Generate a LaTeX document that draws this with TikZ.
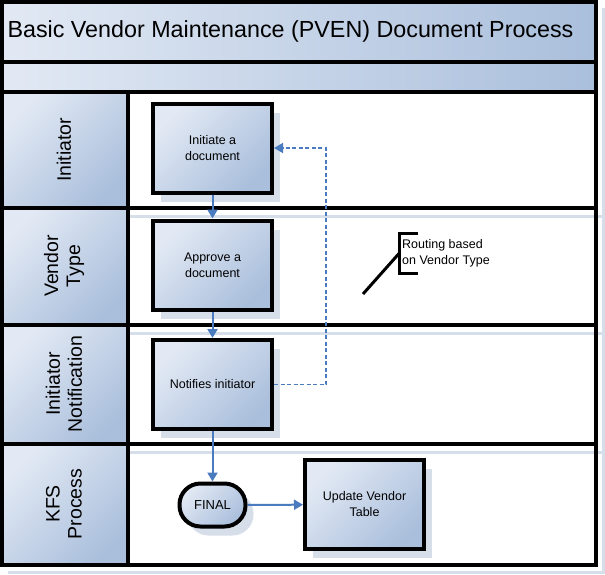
\documentclass[tikz,border=0pt]{standalone}
\usepackage{fontspec}
\setmainfont{Liberation Sans}
\usepackage{tikz}
\usetikzlibrary{arrows.meta,calc,shadows}
\definecolor{lanelight}{HTML}{E2E9F4}
\definecolor{lanedark}{HTML}{AABFDC}
\definecolor{shadowblue}{HTML}{D6DEEA}
\definecolor{flowblue}{HTML}{4A7BBE}

\begin{document}
\begin{tikzpicture}[x=1pt,y=-1pt,
  framelines/.style={line width=4pt},
  stepbox/.style={draw=black,line width=4pt,minimum width=119pt,minimum height=89pt,
    top color=lanelight,bottom color=lanedark,shading angle=45,align=center,
    font=\fontsize{12.5}{16}\selectfont,
    drop shadow={shadow xshift=8pt,shadow yshift=-9pt,fill=shadowblue,opacity=1}},
  endbox/.style={stepbox,minimum width=66pt,minimum height=43pt,rounded corners=21pt,
    font=\fontsize{13}{16}\selectfont},
  lanelabel/.style={rotate=90,align=center,font=\fontsize{19.5}{22}\selectfont},
  flow/.style={flowblue,line width=2pt,-{Triangle[length=9pt,width=10pt]}},
  flowdash/.style={flow,line width=1.5pt,dash pattern=on 4pt off 2.5pt}]
  \useasboundingbox (0,0) rectangle (605,574);
  \foreach \y in {216,333,452,572} \draw[shadowblue,line width=3pt] (8,\y) -- (605,\y);
  \draw[shadowblue,line width=3pt] (603,8) -- (603,574);
  \shade[left color=lanelight,right color=lanedark] (2,2) rectangle (596,62);
  \shade[left color=lanelight,right color=lanedark] (2,62) rectangle (596,92);
  \foreach \ya/\yb in {92/208,208/325,325/444,444/565}
    \shade[top color=lanelight,bottom color=lanedark,shading angle=45] (2,\ya) rectangle (128,\yb);
  \draw[framelines] (2,2) rectangle (596,565);
  \foreach \y in {62,92,208,325,444} \draw[framelines] (2,\y) -- (596,\y);
  \draw[framelines] (128,92) -- (128,565);

  \node[anchor=west,font=\fontsize{23.3}{26}\selectfont] (title) at (4,31) {Basic Vendor Maintenance (PVEN) Document Process};
  \node[lanelabel] (linit) at (64,150) {Initiator};
  \node[lanelabel] (lvend) at (64,266) {Vendor\\Type};
  \node[lanelabel] (lnote) at (64,384) {Initiator\\Notification};
  \node[lanelabel] (lkfs) at (64,504) {KFS\\Process};

  \node[stepbox] (init) at (212.5,148) {Initiate a\\document};
  \node[stepbox] (appr) at (212.5,265) {Approve a\\document};
  \node[stepbox] (notif) at (212.5,384.5) {Notifies initiator};
  \node[endbox] (final) at (212.5,505) {FINAL};
  \node[stepbox] (upd) at (364.5,504.5) {Update Vendor\\Table};

  \draw[flow] (init) -- (appr);
  \draw[flow] (appr) -- (notif);
  \draw[flow] (notif) -- (final);
  \draw[flow] (final) -- (upd);
  \draw[flowdash] (notif.east) -- ++(52,0) |- (init.east);

  \node[anchor=west,inner sep=0pt,inner xsep=3pt,minimum height=39pt,align=left,
    font=\fontsize{12.5}{16}\selectfont] (note) at (399,253.5) {Routing based\\on Vendor Type};
  \coordinate (notetip) at (363,294);
  \draw[line width=3pt] ([xshift=19pt]note.north west) -- (note.north west) -- (note.south west) -- ([xshift=19pt]note.south west);
  \draw[line width=3pt] (note.west) -- (notetip);
\end{tikzpicture}
\end{document}
